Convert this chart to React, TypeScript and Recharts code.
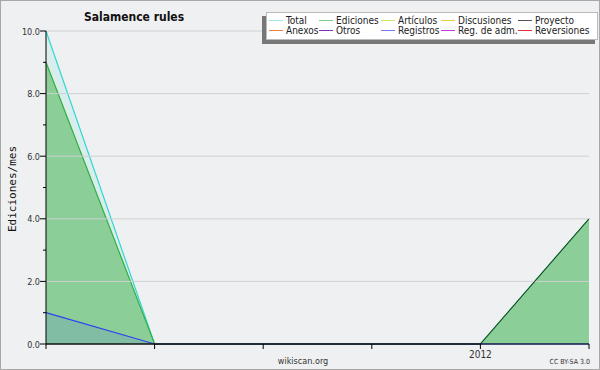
import React from "react"
import { Area, ComposedChart, Line, ReferenceLine, XAxis, YAxis } from "recharts"

// monthly points, index 0..5
const months = [0, 1, 2, 3, 4, 5]
const monthLabels = ["", "", "", "", "2012", ""]
const total = [10, 0, 0, 0, 0, 4]
const ediciones = [9, 0, 0, 0, 0, 4]
const registros = [1, 0, 0, 0, 0, 0]
const proyecto = [0, 0, 0, 0, 0, 4]

const yTicks = [0, 1, 2, 3, 4, 5, 6, 7, 8, 9, 10]
const yMajor = [0, 2, 4, 6, 8, 10]

const legendItems = [
  { name: "Total", color: "#a8e6e0" },
  { name: "Ediciones", color: "#7fc98a" },
  { name: "Artículos", color: "#c8e85a" },
  { name: "Discusiones", color: "#f5c842" },
  { name: "Proyecto", color: "#555555" },
  { name: "Anexos", color: "#f08040" },
  { name: "Otros", color: "#7a30c8" },
  { name: "Registros", color: "#7080f0" },
  { name: "Reg. de adm.", color: "#c040d8" },
  { name: "Reversiones", color: "#e03030" },
]

const data = months.map((m, i) => ({
  m,
  total: total[i],
  ediciones: ediciones[i],
  registros: registros[i],
  proyecto: proyecto[i],
}))

const font = "'DejaVu Sans Condensed', 'DejaVu Sans', sans-serif"

const YTick = (props: any) => {
  const { x, y, payload } = props
  const major = payload.value % 2 === 0
  return (
    <g>
      <line x1={x - (major ? 6 : 3)} x2={x} y1={y} y2={y} stroke="#000" />
      {major && (
        <text x={x - 6} y={y} dy={3.5} textAnchor="end" fontSize={9} fill="#333" fontFamily={font}>
          {payload.value.toFixed(1)}
        </text>
      )}
    </g>
  )
}

const XTick = (props: any) => {
  const { x, y, payload } = props
  return (
    <g>
      <line x1={x} x2={x} y1={y} y2={y + 5} stroke="#000" />
      <text x={x} y={y + 14} textAnchor="middle" fontSize={10} fill="#333" fontFamily={font}>
        {monthLabels[payload.value]}
      </text>
    </g>
  )
}

export default function App() {
  const cols = 5
  const colX = [268, 318, 380, 440, 517]
  return (
    <div
      style={{
        position: "absolute",
        left: 0,
        top: 0,
        width: 600,
        height: 370,
        background: "#eff0f2",
        boxSizing: "border-box",
        border: "1px solid #a8a8a8",
        fontFamily: font,
        overflow: "hidden",
      }}
    >
      <div style={{ position: "absolute", left: -1, top: -1 }}>
        <ComposedChart width={600} height={370} data={data} margin={{ top: 31, right: 11, bottom: 6, left: 0 }}>
          <XAxis
            dataKey="m"
            type="number"
            domain={[0, 5]}
            ticks={months}
            tick={<XTick />}
            tickLine={false}
            tickSize={0}
            tickMargin={0}
            height={20}
            axisLine={{ stroke: "#000" }}
            interval={0}
          />
          <YAxis
            domain={[0, 10]}
            ticks={yTicks}
            tick={<YTick />}
            tickLine={false}
            tickSize={0}
            tickMargin={0}
            width={46}
            axisLine={{ stroke: "#000" }}
            interval={0}
          />
          {yMajor.slice(1).map((v) => (
            <ReferenceLine key={v} y={v} stroke="#cfd0d2" />
          ))}
          <Area
            dataKey="total"
            type="linear"
            stroke="#30d8d0"
            strokeWidth={1.2}
            fill="#40e0d0"
            fillOpacity={0.12}
            isAnimationActive={false}
            dot={false}
            activeDot={false}
          />
          <Area
            dataKey="ediciones"
            type="linear"
            stroke="#30b040"
            strokeWidth={1.2}
            fill="#3cb043"
            fillOpacity={0.5}
            isAnimationActive={false}
            dot={false}
            activeDot={false}
          />
          <Area
            dataKey="registros"
            type="linear"
            stroke="#3040f0"
            strokeWidth={1.2}
            fill="#3040ff"
            fillOpacity={0.12}
            isAnimationActive={false}
            dot={false}
            activeDot={false}
          />
          <Line
            dataKey="proyecto"
            type="linear"
            stroke="#333"
            strokeWidth={1}
            dot={false}
            activeDot={false}
            isAnimationActive={false}
          />
        </ComposedChart>
      </div>

      <div
        style={{
          position: "absolute",
          left: 133,
          top: 9,
          fontSize: 12,
          fontWeight: "bold",
          color: "#111",
          transform: "translateX(-50%)",
          whiteSpace: "nowrap",
        }}
      >
        Salamence rules
      </div>

      <div
        style={{
          position: "absolute",
          left: 3,
          top: 188,
          fontSize: 11,
          color: "#111",
          fontFamily: "'DejaVu Sans Mono', monospace",
          transform: "translate(0, -50%) rotate(-90deg)",
          transformOrigin: "center",
          width: 16,
          display: "flex",
          justifyContent: "center",
          whiteSpace: "nowrap",
        }}
      >
        Ediciones/mes
      </div>

      <div style={{ position: "absolute", left: 261, top: 15, width: 333, height: 28, background: "#777" }} />
      <div
        style={{
          position: "absolute",
          left: 265,
          top: 11,
          width: 332,
          height: 28,
          background: "#fff",
          border: "1px solid #bbb",
          boxSizing: "border-box",
        }}
      />
      {legendItems.map((it, i) => {
        const row = Math.floor(i / cols)
        const col = i % cols
        const cy = 19 + row * 10
        return (
          <div
            key={it.name}
            style={{
              position: "absolute",
              left: colX[col],
              top: cy - 6,
              height: 12,
              display: "flex",
              alignItems: "center",
              fontSize: 10,
              color: "#222",
              whiteSpace: "nowrap",
            }}
          >
            <span style={{ display: "inline-block", width: 14, height: 1, background: it.color, marginRight: 3 }} />
            {it.name}
          </div>
        )
      })}

      <div style={{ position: "absolute", left: 302, top: 355, fontSize: 9, color: "#333", transform: "translateX(-50%)" }}>
        wikiscan.org
      </div>
      <div style={{ position: "absolute", right: 9, top: 357, fontSize: 7, color: "#333" }}>CC BY-SA 3.0</div>
    </div>
  )
}
